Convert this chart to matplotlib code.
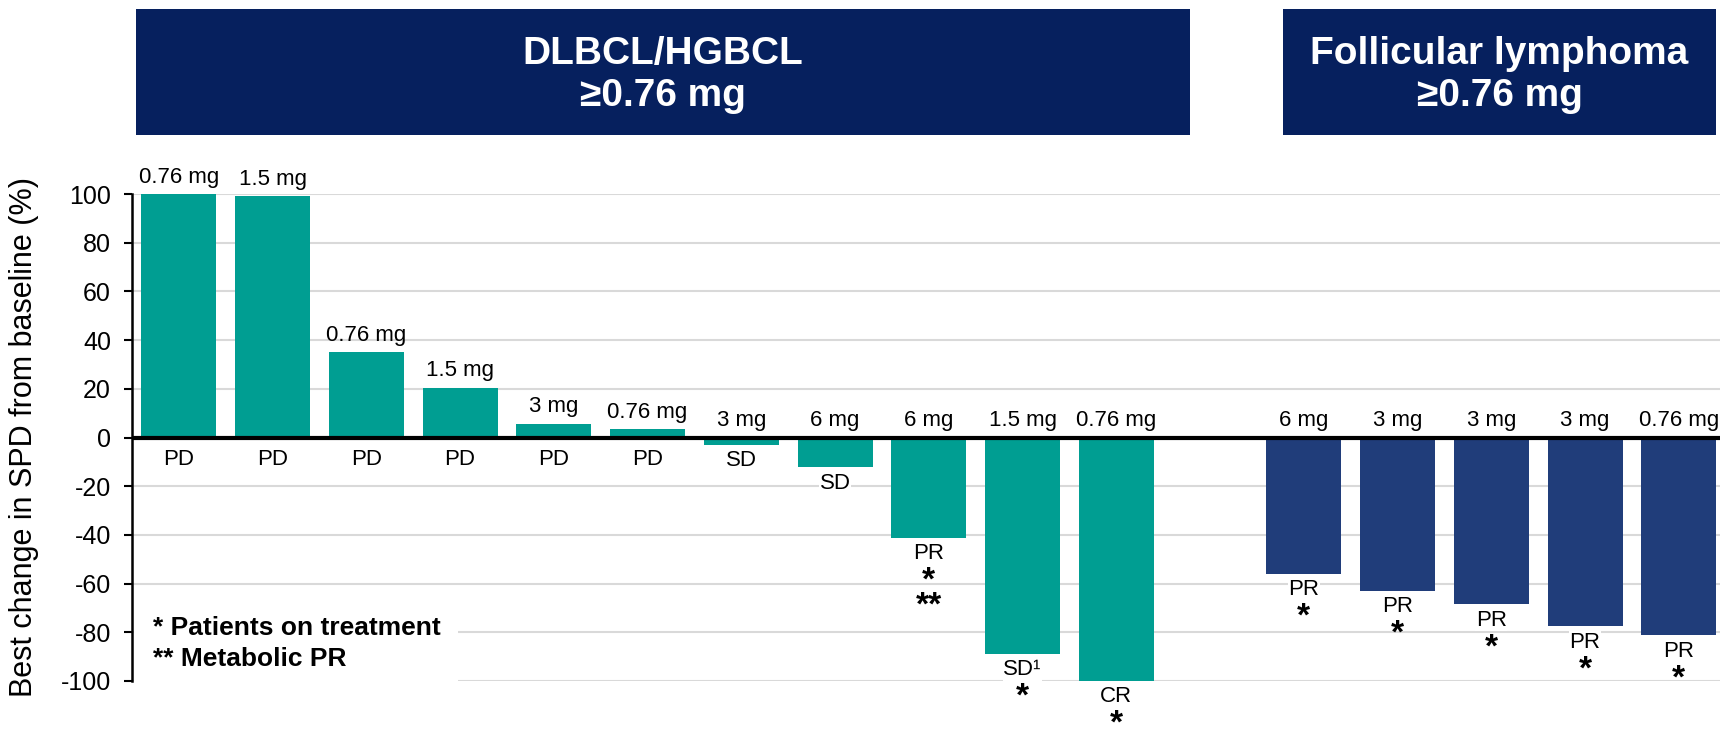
import numpy as np
import matplotlib
matplotlib.use("Agg")
import matplotlib.pyplot as plt
from matplotlib.patches import Rectangle

plt.rcParams['font.family'] = ['Liberation Sans', 'DejaVu Sans']
plt.rcParams['axes.unicode_minus'] = False

# Best change in SPD per patient, sorted within each cohort
dlbcl_values = [100, 99, 35, 20.5, 5.7, 3.4, -3, -12.3, -41.2, -88.8, -100]
dlbcl_doses = ["0.76 mg", "1.5 mg", "0.76 mg", "1.5 mg", "3 mg", "0.76 mg",
               "3 mg", "6 mg", "6 mg", "1.5 mg", "0.76 mg"]
dlbcl_response = ["PD", "PD", "PD", "PD", "PD", "PD", "SD", "SD", "PR", "SD\u00b9", "CR"]
dlbcl_marks = [[], [], [], [], [], [], [], [], ["*", "**"], ["*"], ["*"]]

fl_values = [-56, -63, -68.5, -77.5, -81.3]
fl_doses = ["6 mg", "3 mg", "3 mg", "3 mg", "0.76 mg"]
fl_response = ["PR", "PR", "PR", "PR", "PR"]
fl_marks = [["*"], ["*"], ["*"], ["*"], ["*"]]

yticks = [100, 80, 60, 40, 20, 0, -20, -40, -60, -80, -100]

TEAL = "#009E92"
NAVY_BAR = "#203D7A"
HEADER = "#06205E"

fig = plt.figure(figsize=(17.2, 7.31), dpi=100, facecolor="white")
ax = fig.add_axes([0.0767, 0.0684, 0.9233, 0.6662])

x_dlbcl = np.arange(len(dlbcl_values))
x_fl = np.arange(len(fl_values)) + len(dlbcl_values) + 1

ax.bar(x_dlbcl, dlbcl_values, width=0.8, color=TEAL, zorder=3)
ax.bar(x_fl, fl_values, width=0.8, color=NAVY_BAR, zorder=3)

ax.set_xlim(-0.5, 16.44)
ax.set_ylim(-100, 100)
ax.set_yticks(yticks)
ax.set_yticklabels([str(v) for v in yticks])
ax.set_xticks([])
ax.yaxis.grid(True, color="#D9D9D9", linewidth=1.5, zorder=0)
ax.set_axisbelow(True)
for side in ["top", "right", "bottom"]:
    ax.spines[side].set_visible(False)
ax.spines["left"].set_linewidth(1.8)
ax.tick_params(axis="y", direction="out", length=6, width=1.5, labelsize=18, pad=9)
ax.axhline(0, color="black", linewidth=3, zorder=4)

xs = list(x_dlbcl) + list(x_fl)
vals = dlbcl_values + fl_values
doses = dlbcl_doses + fl_doses
resp = dlbcl_response + fl_response
marks = dlbcl_marks + fl_marks

for x, v, d, r, m in zip(xs, vals, doses, resp, marks):
    top = max(v, 0)
    bottom = min(v, 0)
    ax.annotate(d, (x, top), xytext=(0, 17), textcoords="offset pixels",
                ha="center", va="center", fontsize=16, zorder=5)
    off = 22 if v > 0 else 16
    ax.annotate(r, (x, bottom), xytext=(0, -off), textcoords="offset pixels",
                ha="center", va="center", fontsize=16, zorder=5,
                bbox=dict(facecolor="white", edgecolor="none", pad=0.5))
    for k, s in enumerate(m):
        ax.annotate(s, (x, bottom), xytext=(0, -off - 36 - 25 * k),
                    textcoords="offset pixels", ha="center", va="baseline",
                    fontsize=24, fontweight="bold", zorder=5, annotation_clip=False)

# footnote key on a white patch over the gridlines
ax.add_patch(Rectangle((-0.48, -103), 3.46, 33, facecolor="white",
                       edgecolor="none", zorder=2, clip_on=False))
ax.text(-0.27, -78.3, "* Patients on treatment", fontsize=19, fontweight="bold",
        va="center", ha="left", zorder=5)
ax.text(-0.27, -91, "** Metabolic PR", fontsize=19, fontweight="bold",
        va="center", ha="left", zorder=5)

fig.text(0.014, 0.402, "Best change in SPD from baseline (%)", rotation=90,
         fontsize=22, ha="center", va="center")

# cohort headers
headers = [
    (0.0791, 0.6128, "DLBCL/HGBCL\n\u22650.76 mg"),
    (0.7459, 0.2518, "Follicular lymphoma\n\u22650.76 mg"),
]
for x0, w, label in headers:
    fig.add_artist(Rectangle((x0, 0.8153), w, 0.1724, transform=fig.transFigure,
                             facecolor=HEADER, edgecolor="none"))
    fig.text(x0 + w / 2, 0.8153 + 0.1724 / 2 - 0.004, label, color="white",
             fontsize=28, fontweight="bold", ha="center", va="center",
             linespacing=1.2)

fig.savefig("out.png", dpi=100, facecolor="white")
